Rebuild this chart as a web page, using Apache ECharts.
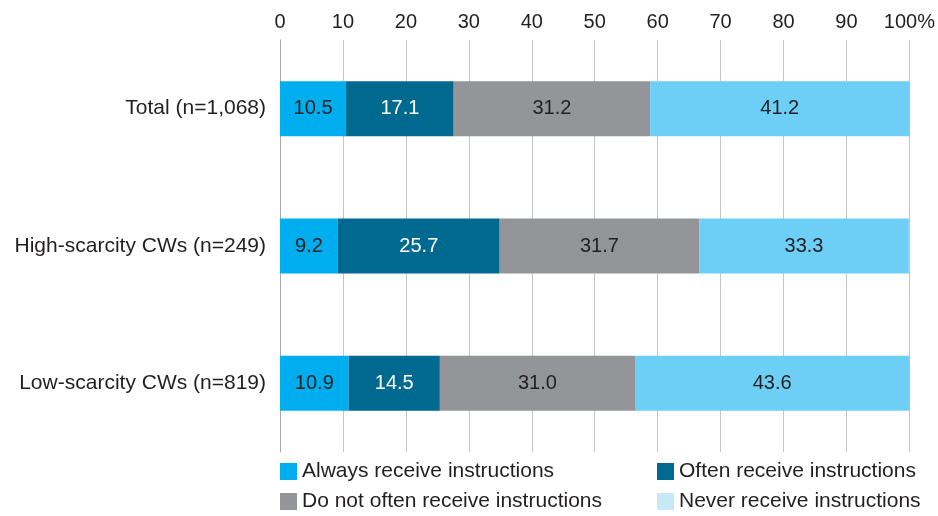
<!DOCTYPE html>
<html>
<head>
<meta charset="utf-8">
<script src="https://cdn.jsdelivr.net/npm/echarts@6/dist/echarts.min.js"></script>
<style>
  html, body { margin: 0; padding: 0; background: #fff; }
  #chart { width: 938px; height: 516px; }
</style>
</head>
<body>
<div id="chart"></div>
<script>
// Groups of community workers (top to bottom)
const categories = ['Total (n=1,068)', 'High-scarcity CWs (n=249)', 'Low-scarcity CWs (n=819)'];

// Share (%) of each response per group
const always = [10.5, 9.2, 10.9];
const often = [17.1, 25.7, 14.5];
const notOften = [31.2, 31.7, 31.0];
const never = [41.2, 33.3, 43.6];

const seriesNames = [
  'Always receive instructions',
  'Often receive instructions',
  'Do not often receive instructions',
  'Never receive instructions'
];

const FONT = '"Liberation Sans", Arial, Helvetica, sans-serif';
const TEXT = '#231f20';

const colors = ['#00aeef', '#006990', '#939598', '#6dcff6'];
const labelColors = [TEXT, '#ffffff', TEXT, TEXT];
const valueSets = [always, often, notOften, never];

const series = seriesNames.map((name, i) => ({
  name: name,
  type: 'bar',
  stack: 'share',
  barWidth: 55,
  data: valueSets[i],
  itemStyle: { color: colors[i] },
  label: {
    show: true,
    position: 'inside',
    color: labelColors[i],
    fontFamily: FONT,
    fontSize: 20,
    formatter: p => p.value.toFixed(1)
  },
  emphasis: { disabled: true }
}));

const legendText = { color: TEXT, fontFamily: FONT, fontSize: 21, lineHeight: 21 };

const legendBase = {
  orient: 'vertical',
  top: 461,
  height: 54,
  padding: 0,
  itemWidth: 17,
  itemHeight: 17,
  itemGap: 9,
  icon: 'rect',
  selectedMode: false,
  textStyle: legendText
};

const chart = echarts.init(document.getElementById('chart'), null, { renderer: 'canvas' });
chart.setOption({
  animation: false,
  backgroundColor: '#ffffff',
  grid: { left: 280, right: 28, top: 40, bottom: 64, containLabel: false },
  xAxis: {
    type: 'value',
    position: 'top',
    min: 0,
    max: 100,
    interval: 10,
    axisLine: { show: false },
    axisTick: { show: false },
    axisLabel: {
      color: TEXT,
      fontFamily: FONT,
      fontSize: 20,
      margin: 8,
      formatter: v => (v === 100 ? '100%' : String(v))
    },
    splitLine: { show: true, lineStyle: { color: '#c4c4c4', width: 1 } }
  },
  yAxis: {
    type: 'category',
    inverse: true,
    data: categories,
    axisLine: { show: true, lineStyle: { color: '#a8a8a8', width: 1 } },
    axisTick: { show: false },
    axisLabel: {
      color: TEXT,
      fontFamily: FONT,
      fontSize: 21,
      margin: 14
    },
    splitLine: { show: false }
  },
  legend: [
    Object.assign({}, legendBase, {
      left: 280,
      data: [seriesNames[0], seriesNames[2]]
    }),
    Object.assign({}, legendBase, {
      left: 657,
      data: [
        seriesNames[1],
        { name: seriesNames[3], itemStyle: { color: '#c6e8f7' } }
      ]
    })
  ],
  series: series
});
</script>
</body>
</html>
